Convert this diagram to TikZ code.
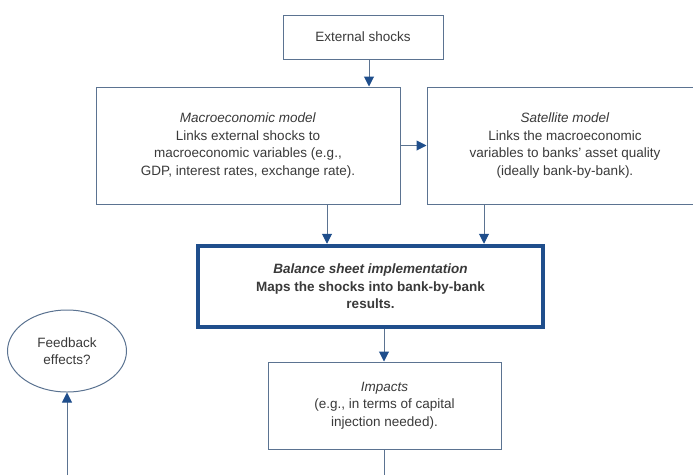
\documentclass[tikz,border=0pt]{standalone}
\usepackage{fontspec}
\setmainfont{Liberation Sans}
\usepackage{xcolor}
\definecolor{FlowBlue}{HTML}{1F4E8C}
\definecolor{FlowLine}{HTML}{5B7391}
\definecolor{FlowText}{HTML}{3A3A3A}
\usetikzlibrary{shapes.geometric,arrows.meta}

\begin{document}
\begin{tikzpicture}[x=1pt,y=-1pt,
  font=\fontsize{13.5}{17.5}\selectfont, text=FlowText,
  box/.style={draw=FlowLine, line width=1pt, fill=white, align=center, inner sep=0pt},
  link/.style={draw=FlowLine, line width=1pt},
  arr/.style={link, -{Triangle[width=10pt,length=10pt,color=FlowBlue]}}]
  \useasboundingbox (0,0) rectangle (693,475);
  \clip (0,0) rectangle (693,475);
  % boxes (external shocks, models, balance sheet, impacts)
  \node[box, minimum width=160pt, minimum height=44pt] (ext) at (363,37) {External shocks};
  \node[box, minimum width=304pt, minimum height=117pt] (macro) at (248,145.5)
    {\textit{Macroeconomic model}\\ Links external shocks to\\ macroeconomic variables (e.g.,\\ GDP, interest rates, exchange rate).};
  \node[box, minimum width=276pt, minimum height=117pt] (sat) at (565,145.5)
    {\textit{Satellite model}\\ Links the macroeconomic\\ variables to banks' asset quality\\ (ideally bank-by-bank).};
  \node[box, draw=FlowBlue, line width=4.5pt, minimum width=345pt, minimum height=81pt, font=\fontsize{13.5}{17.5}\selectfont\bfseries] (bal) at (370.5,286.5)
    {\textit{Balance sheet implementation}\\ Maps the shocks into bank-by-bank\\ results.};
  \node[box, minimum width=233pt, minimum height=87pt] (imp) at (384.5,405.5)
    {\textit{Impacts}\\ (e.g., in terms of capital\\ injection needed).};
  \node[box, ellipse, minimum width=119pt, minimum height=82pt] (fb) at (67,351) {Feedback\\ effects?};
  % free ends at the bottom edge
  \coordinate (impend) at (384,475);
  \coordinate (fbend) at (67,475);
  % connectors
  \draw[arr] (ext.south -| 369,0) -- (macro.north -| 369,0);
  \draw[arr] (macro.east) -- (sat.west);
  \draw[arr] (macro.south -| 327,0) -- (bal.north -| 327,0);
  \draw[arr] (sat.south -| 484,0) -- (bal.north -| 484,0);
  \draw[arr] (bal.south -| 384,0) -- (imp.north -| 384,0);
  \draw[link] (imp.south -| 384,0) -- (impend);
  \draw[arr] (fbend) -- (fb.south);
\end{tikzpicture}
\end{document}
